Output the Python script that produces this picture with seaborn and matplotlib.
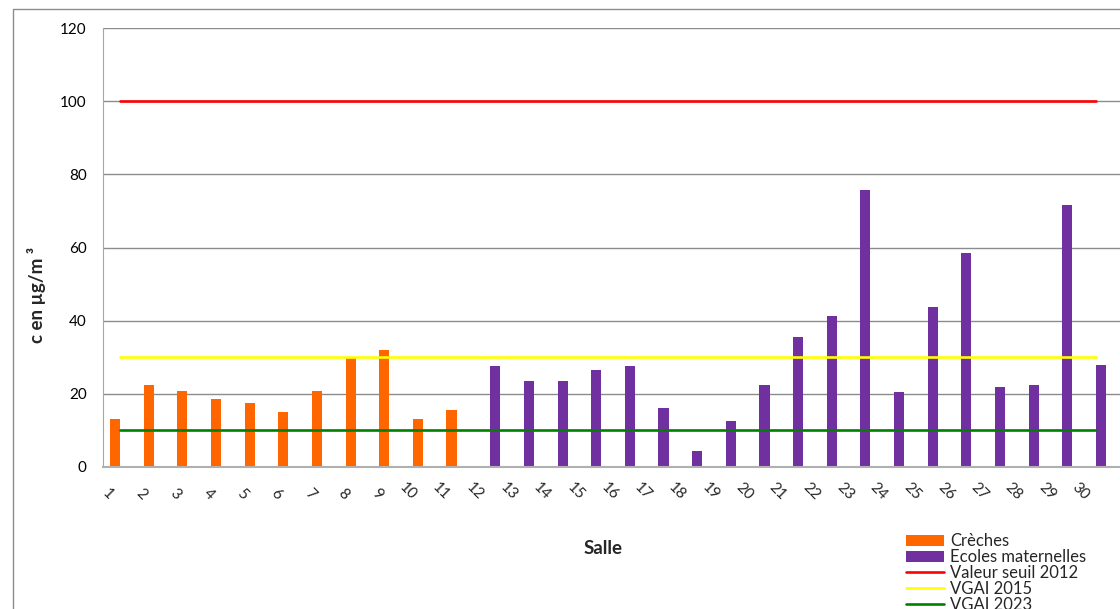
import numpy as np
import pandas as pd
import matplotlib
matplotlib.use('Agg')
import matplotlib.pyplot as plt
import matplotlib.transforms as mtransforms
from matplotlib.patches import Patch, Rectangle
from matplotlib.lines import Line2D
import seaborn as sns

#======================================================================================
# Data
salles = [str(i) for i in range(1, 31)]

crechesSalles = salles[:11]
crechesValues = [13.0, 22.3, 20.9, 18.7, 17.6, 14.9, 20.9, 29.8, 32.1, 13.0, 15.5]

ecolesSalles = salles[11:]
ecolesValues = [27.7, 23.6, 23.6, 26.4, 27.7, 16.0, 4.5, 12.5, 22.5, 35.4,
                41.4, 75.7, 20.4, 43.8, 58.5, 22.0, 22.5, 71.6, 28.0]

seuil2012 = 100
vgai2015 = 30
vgai2023 = 10

typeNames = ['Crèches', 'Ecoles maternelles']
barColors = ['#ff6600', '#7030a0']
lineNames = ['Valeur seuil 2012', 'VGAI 2015', 'VGAI 2023']
lineColors = ['#ff0000', '#ffff00', '#008000']
#======================================================================================

df = pd.DataFrame({'salle': crechesSalles + ecolesSalles,
                   'c': crechesValues + ecolesValues,
                   'type': [typeNames[0]] * len(crechesSalles) + [typeNames[1]] * len(ecolesSalles)})

sns.set_style('white')
plt.rcParams['font.family'] = ['Lato', 'DejaVu Sans']

W, H = 1120, 609
fig = plt.figure(figsize=(W / 100, H / 100), dpi=100)
ax = fig.add_axes([103.3 / W, (H - 467) / H, (1122.8 - 103.3) / W, (467 - 28) / H])

sns.barplot(data=df, x='salle', y='c', hue='type', order=salles, hue_order=typeNames,
            palette=barColors, width=0.6, dodge=True, saturation=1, errorbar=None,
            linewidth=0, ax=ax, legend=False, zorder=2)

pos = np.arange(len(salles))
for val, col in zip([seuil2012, vgai2015, vgai2023], lineColors):
    sns.lineplot(x=pos, y=np.full(len(pos), val), color=col, linewidth=1.9, ax=ax, zorder=3)

ax.set_ylim(0, 120)
ax.set_xlim(-0.5, 29.8)
ax.set_yticks(np.arange(0, 121, 20))
ax.yaxis.grid(True, color='#8c8c8c', linewidth=1.0, zorder=0)
ax.set_axisbelow(True)

for s in ['top', 'right']:
    ax.spines[s].set_visible(False)
ax.spines['left'].set_color('#a6a6a6')
ax.spines['bottom'].set_color('#b0b0b0')
ax.spines['bottom'].set_linewidth(1.5)

ax.tick_params(axis='y', length=5, color='#a6a6a6', labelsize=11, pad=7, labelcolor='black')
ax.set_xticks(pos)
ax.set_xticks(np.arange(-0.5, 30, 1), minor=True)
ax.tick_params(axis='x', which='major', length=0, pad=22, labelsize=11)
ax.tick_params(axis='x', which='minor', length=5, color='#a6a6a6')
ax.set_xticklabels(salles, rotation=-45, ha='right', va='center', rotation_mode='anchor')
offset = mtransforms.ScaledTranslation(-6.5 / 72, 0, fig.dpi_scale_trans)
for lab in ax.get_xticklabels():
    lab.set_transform(lab.get_transform() + offset)

ax.set_xlabel('')
ax.set_ylabel('')
fig.text(603 / W, 1 - 548 / H, 'Salle', ha='center', va='center', fontsize=13.5, fontweight='bold')
fig.text(37 / W, 1 - 295 / H, 'c en µg/m ³', ha='center', va='center', rotation=90,
         fontsize=13.5, fontweight='bold')

# chart area border
fig.patches.append(Rectangle((13 / W, -0.1), 1.2, 1 - 9 / H + 0.1, transform=fig.transFigure,
                             fill=False, edgecolor='#8c8c8c', linewidth=1.0))

handles = [Patch(facecolor=c, edgecolor='none') for c in barColors]
handles += [Line2D([0], [0], color=c, linewidth=1.9) for c in lineColors]
fig.legend(handles, typeNames + lineNames, loc='upper left',
           bbox_to_anchor=(906 / W, 1 - 533 / H), frameon=False, fontsize=12,
           borderpad=0, borderaxespad=0, handlelength=2.3, handletextpad=0.35,
           labelspacing=0.0, handleheight=0.65)

fig.savefig('out.png', dpi=100)
